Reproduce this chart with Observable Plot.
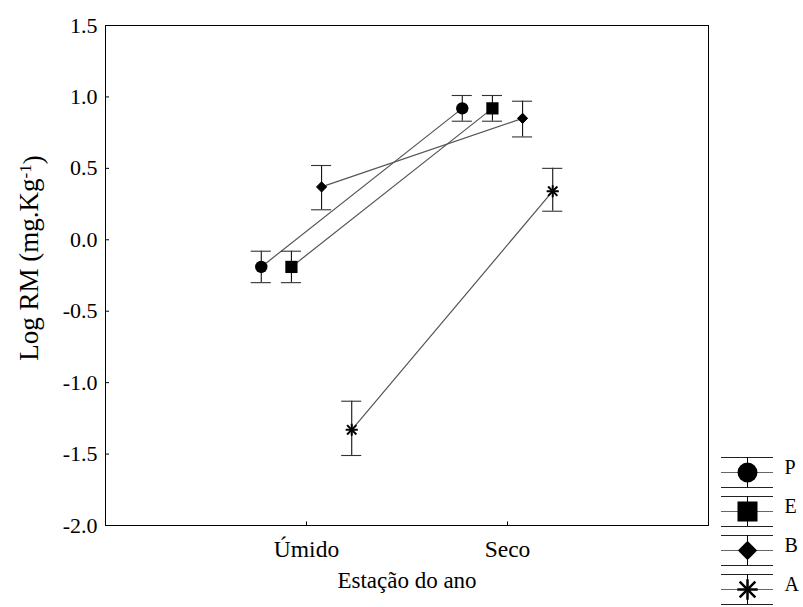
<!DOCTYPE html>
<html>
<head>
<meta charset="utf-8">
<script src="https://cdn.jsdelivr.net/npm/d3@7"></script>
<script src="https://cdn.jsdelivr.net/npm/@observablehq/plot@0.6"></script>
<style>
  html, body { margin: 0; padding: 0; background: white; }
  #wrap { position: relative; width: 803px; height: 607px; overflow: hidden; font-family: 'Liberation Serif', 'Times New Roman', serif; }
  #legend { position: absolute; left: 718px; top: 451px; }
  svg text { font-family: 'Liberation Serif', 'Times New Roman', serif !important; }
</style>
</head>
<body>
<div id="wrap"><div id="chart"></div><div id="legend"></div></div>
<script>
// ---- data ----
const seasons = ["Úmido", "Seco"];
const groups = ["P", "E", "B", "A"];
const meanP = [-0.19, 0.92], loP = [-0.30, 0.83], hiP = [-0.08, 1.01];
const meanE = [-0.19, 0.92], loE = [-0.30, 0.83], hiE = [-0.08, 1.01];
const meanB = [0.37, 0.85],  loB = [0.21, 0.72],  hiB = [0.52, 0.97];
const meanA = [-1.33, 0.34], loA = [-1.51, 0.20], hiA = [-1.13, 0.50];
const yTicks = [-2.0, -1.5, -1.0, -0.5, 0.0, 0.5, 1.0, 1.5];

// ---- layout (dodge per group, not data) ----
const dodge = {P: -0.225, E: -0.075, B: 0.075, A: 0.225};
const capHalf = 0.05;

const series = {P: [meanP, loP, hiP], E: [meanE, loE, hiE], B: [meanB, loB, hiB], A: [meanA, loA, hiA]};
const rows = [];
for (const g of groups) {
  seasons.forEach((s, i) => {
    rows.push({group: g, season: s, xi: i + 1 + dodge[g], mean: series[g][0][i], lo: series[g][1][i], hi: series[g][2][i]});
  });
}
const of = g => rows.filter(r => r.group === g);

const font = "'Liberation Serif', 'Times New Roman', serif";

const chart = Plot.plot({
  width: 803, height: 607,
  marginLeft: 105, marginRight: 95, marginTop: 25, marginBottom: 82,
  style: {fontFamily: font, fontSize: "22px", background: "white", color: "black"},
  x: {domain: [0, 3]},
  y: {domain: [-2, 1.5]},
  marks: [
    Plot.axisY({ticks: yTicks, tickFormat: d => d.toFixed(1), tickSize: 0, tickPadding: 8, label: null}),
    Plot.axisX({ticks: [1, 2], tickFormat: i => seasons[i - 1], tickSize: 0, tickPadding: 15, label: null, fontSize: 23.5}),
    Plot.ruleY(yTicks, {y: d => d, x1: 0, x2: 0.02, stroke: "black"}),
    Plot.ruleX([1, 2], {x: d => d, y1: -2, y2: -1.975, stroke: "black"}),
    Plot.line(rows, {x: "xi", y: "mean", z: "group", stroke: "#555", strokeWidth: 1.2}),
    Plot.ruleX(rows, {x: "xi", y1: "lo", y2: "hi", stroke: "#111", strokeWidth: 1.1}),
    Plot.ruleY(rows, {y: "hi", x1: d => d.xi - capHalf, x2: d => d.xi + capHalf, stroke: "#333", strokeWidth: 1.1}),
    Plot.ruleY(rows, {y: "lo", x1: d => d.xi - capHalf, x2: d => d.xi + capHalf, stroke: "#333", strokeWidth: 1.1}),
    Plot.dot(of("P"), {x: "xi", y: "mean", r: 6.2, fill: "black", stroke: "none"}),
    Plot.dot(of("E"), {x: "xi", y: "mean", symbol: "square", r: 6.9, fill: "black", stroke: "none"}),
    Plot.dot(of("B"), {x: "xi", y: "mean", symbol: "diamond2", r: 4.6, fill: "black", stroke: "black", strokeWidth: 1}),
    Plot.dot(of("A"), {x: "xi", y: "mean", symbol: "plus", r: 4, fill: "none", stroke: "black", strokeWidth: 2}),
    Plot.dot(of("A"), {x: "xi", y: "mean", symbol: "times", r: 4.3, fill: "none", stroke: "black", strokeWidth: 2}),
    Plot.frame({stroke: "black", strokeWidth: 1}),
    Plot.text(["Estação do ano"], {frameAnchor: "bottom", dy: 62, text: d => d, fontSize: 23})
  ]
});
document.getElementById("chart").append(chart);

// y axis title with superscript
const svg = d3.select(chart.tagName.toLowerCase() === "svg" ? chart : chart.querySelector("svg"));
const t = svg.append("text")
  .attr("transform", "translate(38,258) rotate(-90)")
  .attr("text-anchor", "middle")
  .attr("font-size", 27)
  .attr("fill", "black");
t.append("tspan").text("Log RM (mg.Kg");
t.append("tspan").attr("dy", "-0.42em").attr("font-size", 17).text("-1");
t.append("tspan").attr("dy", "0.42em").text(")");

// ---- legend ----
const legend = Plot.plot({
  width: 85, height: 160,
  margin: 0,
  style: {fontFamily: font, fontSize: "20px", background: "transparent", color: "black", overflow: "visible"},
  x: {domain: [0, 1], range: [3, 55], axis: null},
  y: {type: "point", domain: groups, range: [20, 139], padding: 0, axis: null},
  marks: [
    Plot.ruleY(groups, {y: d => d, x1: 0, x2: 1, dy: -15, stroke: "#222"}),
    Plot.ruleY(groups, {y: d => d, x1: 0, x2: 1, stroke: "#666"}),
    Plot.ruleY(groups, {y: d => d, x1: 0, x2: 1, dy: 15, stroke: "#222"}),
    Plot.ruleX(groups, {x: () => 0.5, y1: d => d, y2: d => d, insetTop: -15, insetBottom: -15, stroke: "black"}),
    Plot.dot(["P"], {x: () => 0.5, y: d => d, r: 10, fill: "black", stroke: "none"}),
    Plot.dot(["E"], {x: () => 0.5, y: d => d, symbol: "square", r: 11.3, fill: "black", stroke: "none"}),
    Plot.dot(["B"], {x: () => 0.5, y: d => d, symbol: "diamond2", r: 8.3, fill: "black", stroke: "black", strokeWidth: 1}),
    Plot.dot(["A"], {x: () => 0.5, y: d => d, symbol: "plus", r: 6.6, fill: "none", stroke: "black", strokeWidth: 2.5}),
    Plot.dot(["A"], {x: () => 0.5, y: d => d, symbol: "times", r: 7.2, fill: "none", stroke: "black", strokeWidth: 2.5}),
    Plot.text(groups, {x: () => 1, y: d => d, text: d => d, dx: 11, dy: -5, textAnchor: "start", fontSize: 20})
  ]
});
document.getElementById("legend").append(legend);
</script>
</body>
</html>
